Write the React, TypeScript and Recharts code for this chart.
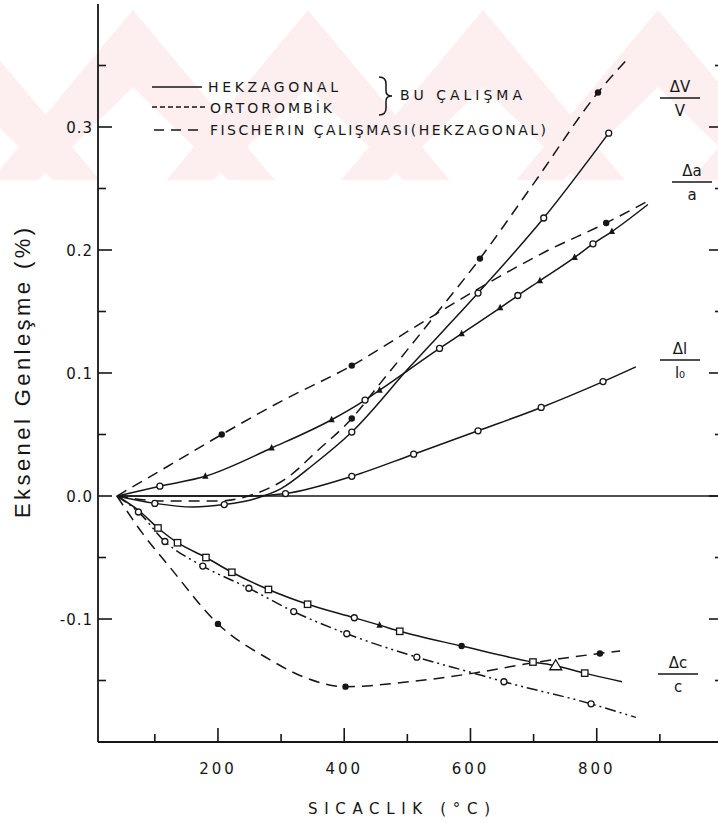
import { LineChart, Line, XAxis, YAxis, ReferenceLine } from "recharts";

// temperature (°C) / axial expansion (%) readings per curve, marker code per point
// o = open circle, d = filled dot, t = small triangle, s = open square, T = open triangle

const hexVTemp = [40, 100, 160, 210, 260, 300, 350, 412, 504, 612, 716, 819];
const hexVVal = [0, -0.006, -0.009, -0.007, -0.002, 0.006, 0.025, 0.052, 0.105, 0.165, 0.226, 0.295];
const hexVMark = ["", "o", "", "o", "", "", "", "o", "", "o", "o", "o"];

const fisVTemp = [40, 110, 200, 260, 310, 358, 412, 453, 555, 615, 700, 802, 850];
const fisVVal = [0, -0.004, -0.004, 0.002, 0.015, 0.037, 0.063, 0.089, 0.154, 0.193, 0.254, 0.328, 0.356];
const fisVMark = ["", "", "", "", "", "", "d", "", "", "d", "", "d", ""];

const hexATemp = [40, 108, 180, 285, 380, 433, 456, 551, 586, 647, 675, 710, 765, 794, 824, 881];
const hexAVal = [0, 0.008, 0.016, 0.039, 0.062, 0.078, 0.086, 0.12, 0.132, 0.153, 0.163, 0.175, 0.194, 0.205, 0.215, 0.237];
const hexAMark = ["", "o", "t", "t", "t", "o", "t", "o", "t", "t", "o", "t", "t", "o", "t", ""];

const fisATemp = [40, 120, 206, 300, 412, 520, 631, 720, 815, 878];
const fisAVal = [0, 0.024, 0.05, 0.077, 0.106, 0.14, 0.174, 0.199, 0.222, 0.239];
const fisAMark = ["", "", "d", "", "d", "", "", "", "d", ""];

const hexLTemp = [40, 150, 250, 307, 412, 510, 612, 712, 810, 862];
const hexLVal = [0, 0, 0, 0.002, 0.016, 0.034, 0.053, 0.072, 0.093, 0.105];
const hexLMark = ["", "", "", "o", "o", "o", "o", "o", "o", ""];

const hexCTemp = [40, 75, 105, 136, 181, 222, 280, 342, 416, 456, 488, 586, 699, 735, 781, 840];
const hexCVal = [0, -0.012, -0.026, -0.038, -0.05, -0.062, -0.076, -0.088, -0.099, -0.105, -0.11, -0.122, -0.135, -0.138, -0.144, -0.151];
const hexCMark = ["", "", "s", "s", "s", "s", "s", "s", "o", "t", "s", "d", "s", "T", "s", ""];

const ortCTemp = [40, 74, 116, 176, 249, 320, 404, 515, 605, 653, 791, 862];
const ortCVal = [0, -0.013, -0.037, -0.057, -0.075, -0.094, -0.112, -0.131, -0.144, -0.151, -0.169, -0.18];
const ortCMark = ["", "o", "o", "o", "o", "o", "o", "o", "", "o", "o", ""];

const fisCTemp = [40, 80, 124, 200, 282, 340, 402, 504, 605, 694, 805, 837];
const fisCVal = [0, -0.03, -0.058, -0.104, -0.133, -0.148, -0.155, -0.151, -0.144, -0.136, -0.128, -0.126];
const fisCMark = ["", "", "", "d", "", "", "d", "", "", "", "d", ""];

const xTicks = [100, 200, 300, 400, 500, 600, 700, 800, 900];
const xLabels = [200, 400, 600, 800];
const yTicks = [-0.15, -0.1, -0.05, 0, 0.05, 0.1, 0.15, 0.2, 0.25, 0.3, 0.35];
const yLabels = ["-0.1", "0.0", "0.1", "0.2", "0.3"];

const INK = "#161616";
const FISCHER_DASH = "11 7";
const ORTHO_DASH = "11 4 2 4 2 4";

const pts = (t: number[], v: number[], m: string[]) =>
  t.map((x, i) => ({ t: x, v: v[i], m: m[i] }));

const series = [
  { id: "hexV", data: pts(hexVTemp, hexVVal, hexVMark), dash: undefined },
  { id: "fisV", data: pts(fisVTemp, fisVVal, fisVMark), dash: FISCHER_DASH },
  { id: "hexA", data: pts(hexATemp, hexAVal, hexAMark), dash: undefined },
  { id: "fisA", data: pts(fisATemp, fisAVal, fisAMark), dash: FISCHER_DASH },
  { id: "hexL", data: pts(hexLTemp, hexLVal, hexLMark), dash: undefined },
  { id: "hexC", data: pts(hexCTemp, hexCVal, hexCMark), dash: undefined },
  { id: "ortC", data: pts(ortCTemp, ortCVal, ortCMark), dash: ORTHO_DASH },
  { id: "fisC", data: pts(fisCTemp, fisCVal, fisCMark), dash: FISCHER_DASH },
];

const Marker = (p: any) => {
  const { cx, cy, payload } = p;
  const k = `${p.index}-${cx}`;
  if (cx == null || cy == null) return <g key={k} />;
  switch (payload?.m) {
    case "o":
      return <circle key={k} cx={cx} cy={cy} r={3} fill="#fff" stroke={INK} strokeWidth={1.3} />;
    case "d":
      return <circle key={k} cx={cx} cy={cy} r={3.2} fill={INK} />;
    case "t":
      return <path key={k} d={`M${cx},${cy - 4}L${cx + 3.2},${cy + 2.5}L${cx - 3.2},${cy + 2.5}Z`} fill={INK} />;
    case "T":
      return <path key={k} d={`M${cx},${cy - 6}L${cx + 6},${cy + 4}L${cx - 6},${cy + 4}Z`} fill="#fff" stroke={INK} strokeWidth={1.3} />;
    case "s":
      return <rect key={k} x={cx - 3.2} y={cy - 3.2} width={6.4} height={6.4} fill="#fff" stroke={INK} strokeWidth={1.3} />;
    default:
      return <g key={k} />;
  }
};

const isMajorY = (v: number) => Math.abs(v * 10 - Math.round(v * 10)) < 1e-6;
const fmtY = (v: number) => (Math.abs(v) < 1e-9 ? "0.0" : v.toFixed(1));

const tickFont = { fontFamily: "DejaVu Sans", fontSize: 15, fill: INK };

const LeftTick = (p: any) => {
  const { x, y, payload } = p;
  const major = isMajorY(payload.value);
  const label = fmtY(payload.value);
  return (
    <g>
      <line x1={x} x2={x + (major ? 14 : 8)} y1={y} y2={y} stroke={INK} strokeWidth={1.6} />
      {major && yLabels.includes(label) && (
        <text x={x - 5} y={y + 5.5} textAnchor="end" {...tickFont} letterSpacing={1}>
          {label}
        </text>
      )}
    </g>
  );
};

const RightTick = (p: any) => {
  const { x, y, payload } = p;
  const major = isMajorY(payload.value);
  return <line x1={x} x2={x - (major ? 14 : 8)} y1={y} y2={y} stroke={INK} strokeWidth={1.6} />;
};

const BottomTick = (p: any) => {
  const { x, y, payload } = p;
  const major = xLabels.includes(payload.value);
  return (
    <g>
      <line x1={x} x2={x} y1={y} y2={y - (major ? 14 : 8)} stroke={INK} strokeWidth={1.6} />
      {major && (
        <text x={x} y={y + 32} textAnchor="middle" {...tickFont} letterSpacing={3}>
          {payload.value}
        </text>
      )}
    </g>
  );
};

const TopTick = (p: any) => {
  const { x, y, payload } = p;
  const major = xLabels.includes(payload.value);
  return <line x1={x} x2={x} y1={y} y2={y + (major ? 14 : 9)} stroke={INK} strokeWidth={1.6} />;
};

const Frac = ({ x, num, den, y }: { x: number; num: string; den: string; y: number }) => (
  <g fontFamily="DejaVu Sans" fontSize={15} fill={INK} textAnchor="middle">
    <text x={x} y={y}>{num}</text>
    <line x1={x - 20} x2={x + 20} y1={y + 6} y2={y + 6} stroke={INK} strokeWidth={1.5} />
    <text x={x} y={y + 24}>{den}</text>
  </g>
);

// faint chevron watermark across the upper band
const chevronCenters = [-42, 133, 308, 483, 658, 833];
const Watermark = () => (
  <svg width={718} height={823} style={{ position: "absolute", left: 0, top: 0 }}>
    <defs>
      <clipPath id="band">
        <rect x={0} y={0} width={718} height={180} />
      </clipPath>
    </defs>
    <g clipPath="url(#band)" fill="#fdeef0">
      {chevronCenters.map((c) => (
        <path
          key={c}
          d={`M${c},10 L${c + 150},190 L${c + 105},190 L${c},87 L${c - 105},190 L${c - 150},190 Z`}
        />
      ))}
    </g>
  </svg>
);

const Overlay = () => (
  <svg width={718} height={823} style={{ position: "absolute", left: 0, top: 0, pointerEvents: "none" }}>
    {/* legend */}
    <g stroke={INK} strokeWidth={1.5}>
      <line x1={152} x2={202} y1={87} y2={87} />
      <line x1={152} x2={205} y1={107} y2={107} strokeDasharray="5 3" />
      <line x1={154} x2={202} y1={130} y2={130} strokeDasharray="10 7" />
      <path d="M379,77 Q386,77 386,84 L386,91 Q386,96 392,96 Q386,96 386,101 L386,108 Q386,115 379,115" fill="none" />
    </g>
    <g fontFamily="DejaVu Sans" fontSize={14} fill={INK}>
      <text x={208} y={92} textLength={130} lengthAdjust="spacing">HEKZAGONAL</text>
      <text x={210} y={113} textLength={122} lengthAdjust="spacing">ORTOROMBİK</text>
      <text x={400} y={100} textLength={122} lengthAdjust="spacing">BU ÇALIŞMA</text>
      <text x={210} y={135} textLength={336} lengthAdjust="spacing">FISCHERIN ÇALIŞMASI(HEKZAGONAL)</text>
    </g>

    {/* curve labels */}
    <Frac x={680} y={92} num="ΔV" den="V" />
    <Frac x={692} y={176} num="Δa" den="a" />
    <Frac x={680} y={354} num="Δl" den="l₀" />
    <Frac x={678} y={668} num="Δc" den="c" />

    {/* axis titles */}
    <text
      transform="translate(30,373) rotate(-90)"
      textAnchor="middle"
      fontFamily="Liberation Sans"
      fontSize={22}
      fill={INK}
      textLength={290}
      lengthAdjust="spacing"
    >
      Eksenel Genleşme (%)
    </text>
    <text x={308} y={814} fontFamily="DejaVu Sans" fontSize={15} fill={INK} textLength={182} lengthAdjust="spacing">
      SICACLIK (°C)
    </text>
  </svg>
);

export default function App() {
  return (
    <div
      style={{
        position: "absolute",
        left: 0,
        top: 0,
        width: 718,
        height: 823,
        overflow: "hidden",
        background: "#fff",
      }}
    >
      <Watermark />
      <div style={{ position: "absolute", left: 0, top: 0 }}>
        <LineChart width={760} height={823} margin={{ top: 4, right: 0, bottom: 0, left: 0 }}>
          <XAxis
            type="number"
            dataKey="t"
            domain={[10, 1000]}
            ticks={xTicks}
            interval={0}
            tickSize={0}
            tickMargin={0}
            height={81}
            axisLine={{ stroke: INK, strokeWidth: 1.8 }}
            tickLine={false}
            tick={(p: any) => <BottomTick {...p} />}
            allowDataOverflow
          />
          <XAxis
            xAxisId="top"
            orientation="top"
            type="number"
            dataKey="t"
            domain={[10, 1000]}
            ticks={xTicks}
            interval={0}
            tickSize={0}
            tickMargin={0}
            height={0}
            axisLine={{ stroke: INK, strokeWidth: 1.8 }}
            tickLine={false}
            tick={(p: any) => <TopTick {...p} />}
            allowDataOverflow
          />
          <YAxis
            type="number"
            domain={[-0.2, 0.4]}
            ticks={yTicks}
            interval={0}
            tickSize={0}
            tickMargin={0}
            width={98}
            axisLine={{ stroke: INK, strokeWidth: 1.8 }}
            tickLine={false}
            tick={(p: any) => <LeftTick {...p} />}
            allowDataOverflow
          />
          <YAxis
            yAxisId="right"
            orientation="right"
            type="number"
            domain={[-0.2, 0.4]}
            ticks={yTicks}
            interval={0}
            tickSize={0}
            tickMargin={0}
            width={37}
            axisLine={{ stroke: INK, strokeWidth: 1.8 }}
            tickLine={false}
            tick={(p: any) => <RightTick {...p} />}
            allowDataOverflow
          />
          <ReferenceLine
            segment={[
              { x: 40, y: 0 },
              { x: 1000, y: 0 },
            ]}
            stroke={INK}
            strokeWidth={1.5}
          />
          {series.map((s) => (
            <Line
              key={s.id}
              data={s.data}
              dataKey="v"
              type="monotone"
              stroke={INK}
              strokeWidth={1.5}
              strokeDasharray={s.dash}
              dot={(p: any) => <Marker {...p} />}
              activeDot={false}
              isAnimationActive={false}
            />
          ))}
        </LineChart>
      </div>
      <Overlay />
    </div>
  );
}
